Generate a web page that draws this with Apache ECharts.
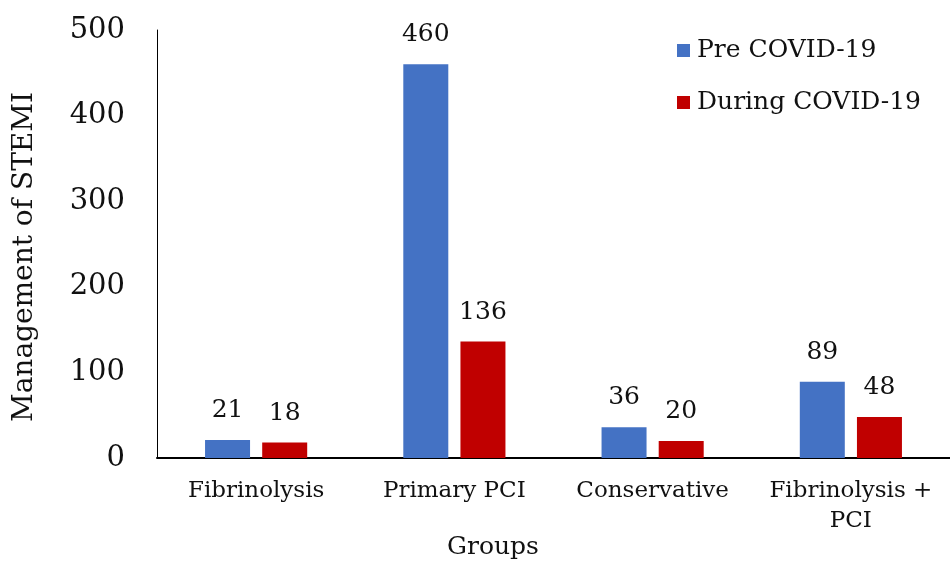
<!DOCTYPE html>
<html>
<head>
<meta charset="utf-8">
<script src="https://cdn.jsdelivr.net/npm/echarts@6/dist/echarts.min.js"></script>
<style>
  html, body { margin: 0; padding: 0; background: #fff; }
  #chart { width: 950px; height: 563px; }
</style>
</head>
<body>
<div id="chart"></div>
<script>
// STEMI management counts by treatment group, before and during COVID-19
const categories = ['Fibrinolysis', 'Primary PCI', 'Conservative', 'Fibrinolysis +\nPCI'];
const preCovid = [21, 460, 36, 89];
const duringCovid = [18, 136, 20, 48];
const seriesNames = ['Pre COVID-19', 'During COVID-19'];
const yTicks = [0, 100, 200, 300, 400, 500];

const FONT = '"DejaVu Serif", "Liberation Serif", serif';
const INK = '#111111';
const chart = echarts.init(document.getElementById('chart'), null, { renderer: 'canvas' });

const labelStyle = {
  show: true,
  position: 'top',
  distance: 17,
  fontFamily: FONT,
  fontSize: 25,
  color: INK
};

chart.setOption({
  animation: false,
  backgroundColor: '#ffffff',
  textStyle: { fontFamily: FONT },
  grid: { left: 157, top: 30, width: 800, height: 428, containLabel: false },
  legend: {
    orient: 'vertical',
    left: 672,
    top: 33,
    itemWidth: 13,
    itemHeight: 13,
    itemGap: 27,
    icon: 'rect',
    data: seriesNames,
    textStyle: { fontFamily: FONT, fontSize: 25, color: INK, padding: [0, 0, 0, 2] }
  },
  xAxis: {
    type: 'category',
    data: categories,
    axisLine: { lineStyle: { color: '#000', width: 2 } },
    axisTick: { show: false },
    axisLabel: { fontFamily: FONT, fontSize: 23, color: INK, margin: 18, lineHeight: 30, interval: 0 }
  },
  yAxis: {
    type: 'value',
    min: yTicks[0],
    max: yTicks[yTicks.length - 1],
    interval: 100,
    axisLine: { show: true, lineStyle: { color: '#000', width: 1 } },
    axisTick: { show: false },
    splitLine: { show: false },
    axisLabel: { fontFamily: FONT, fontSize: 29, color: INK, margin: 32 }
  },
  graphic: [
    {
      type: 'text',
      x: 25,
      y: 257,
      rotation: Math.PI / 2,
      style: {
        text: 'Management of STEMI',
        font: '28px ' + FONT,
        fill: INK,
        align: 'center',
        verticalAlign: 'middle'
      }
    },
    {
      type: 'text',
      x: 493,
      y: 547,
      style: {
        text: 'Groups',
        font: '25px ' + FONT,
        fill: INK,
        align: 'center',
        verticalAlign: 'middle'
      }
    }
  ],
  series: [
    {
      name: seriesNames[0],
      type: 'bar',
      data: preCovid,
      barWidth: 45,
      barGap: '27%',
      itemStyle: { color: '#4472C4' },
      label: labelStyle
    },
    {
      name: seriesNames[1],
      type: 'bar',
      data: duringCovid,
      barWidth: 45,
      barGap: '27%',
      itemStyle: { color: '#C00000' },
      label: labelStyle
    }
  ]
});
</script>
</body>
</html>
